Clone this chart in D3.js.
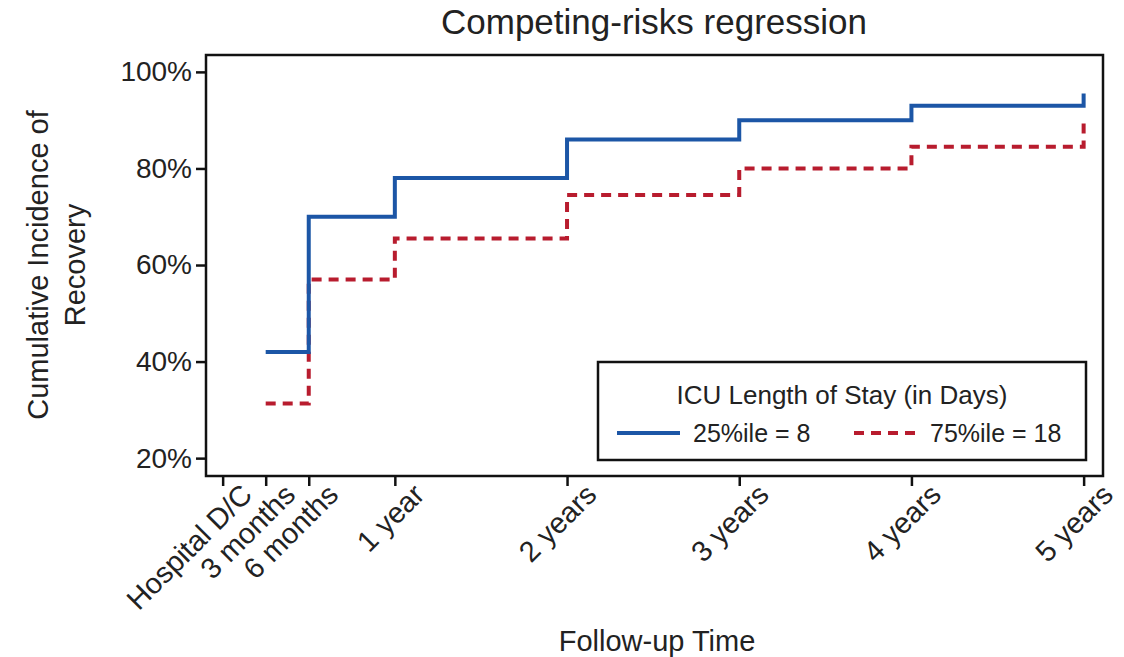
<!DOCTYPE html>
<html>
<head>
<meta charset="utf-8">
<script src="https://cdn.jsdelivr.net/npm/d3@7"></script>
<style>
  body { margin: 0; background: #fff; }
  text { font-family: "Liberation Sans", Arial, sans-serif; fill: #222; }
</style>
</head>
<body>
<script>
// Follow-up time in months, tick labels
const tickMonths = [0, 3, 6, 12, 24, 36, 48, 60];
const tickLabels = ["Hospital D/C", "3 months", "6 months", "1 year", "2 years", "3 years", "4 years", "5 years"];

// Step points (month, cumulative incidence %)
const stepMonths = [3, 6, 12, 24, 36, 48, 60];
const q25Values = [42, 70, 78, 86, 90, 93, 95.5];
const q75Values = [31.3, 57, 65.5, 74.5, 80, 84.5, 89.5];

const yTicks = [20, 40, 60, 80, 100];

const margin = { top: 55, right: 21, bottom: 181, left: 206 };
const W = 1124, H = 657;
const width = W - margin.left - margin.right;
const height = H - margin.top - margin.bottom;

const svg = d3.select("body")
              .append("svg")
              .attr("width", W)
              .attr("height", H);

const g = svg.append("g")
             .attr("transform", `translate(${margin.left},${margin.top})`);

const x = d3.scaleLinear().domain([-1.16, 61.35]).range([0, width]);
const y = d3.scaleLinear().domain([16.3, 103.5]).range([height, 0]);

// step line: each value holds from its month until the next month; final value shown as a jump at 60
function stepData(vals) {
    const pts = [];
    for (let i = 0; i < stepMonths.length - 1; i++) {
        pts.push([stepMonths[i], vals[i]]);
        pts.push([stepMonths[i + 1], vals[i]]);
    }
    pts.push([stepMonths[stepMonths.length - 1], vals[vals.length - 1]]);
    return pts;
}

const line = d3.line()
               .x(d => x(d[0]))
               .y(d => y(d[1]));

g.append("path")
 .datum(stepData(q75Values))
 .attr("fill", "none")
 .attr("stroke", "#b81c2e")
 .attr("stroke-width", 4)
 .attr("stroke-dasharray", "10,7")
 .attr("d", line);

g.append("path")
 .datum(stepData(q25Values))
 .attr("fill", "none")
 .attr("stroke", "#1c56a6")
 .attr("stroke-width", 4)
 .attr("d", line);

// frame
g.append("rect")
 .attr("width", width)
 .attr("height", height)
 .attr("fill", "none")
 .attr("stroke", "#111")
 .attr("stroke-width", 2.5);

// axes
const xAxis = g.append("g")
   .attr("transform", `translate(0,${height})`)
   .call(d3.axisBottom(x).tickValues(tickMonths).tickSize(10).tickFormat((d, i) => tickLabels[i]));
xAxis.select(".domain").remove();
xAxis.selectAll("line").attr("stroke", "#111").attr("stroke-width", 2.5);
xAxis.selectAll("text")
     .style("font-size", "29px")
     .attr("fill", "#222")
     .style("text-anchor", "end")
     .attr("dx", "0.25em")
     .attr("dy", "0.8em")
     .attr("transform", "rotate(-45)");

const yAxis = g.append("g")
   .call(d3.axisLeft(y).tickValues(yTicks).tickSize(10).tickFormat(d => d + "%"));
yAxis.select(".domain").remove();
yAxis.selectAll("line").attr("stroke", "#111").attr("stroke-width", 2.5);
yAxis.selectAll("text")
     .style("font-size", "28px")
     .attr("fill", "#333")
     .attr("x", -14);

// title
svg.append("text")
   .attr("x", 654)
   .attr("y", 34)
   .attr("text-anchor", "middle")
   .style("font-size", "35px")
   .text("Competing-risks regression");

// axis titles
svg.append("text")
   .attr("x", 657)
   .attr("y", 651)
   .attr("text-anchor", "middle")
   .style("font-size", "29px")
   .attr("fill", "#333")
   .text("Follow-up Time");

const yt = svg.append("text")
   .attr("transform", "translate(48,265) rotate(-90)")
   .attr("text-anchor", "middle")
   .style("font-size", "29px")
   .attr("fill", "#333");
yt.append("tspan").attr("x", 0).attr("dy", 0).text("Cumulative Incidence of");
yt.append("tspan").attr("x", 0).attr("dy", 37).text("Recovery");

// legend
const lg = svg.append("g").attr("transform", "translate(598,362)");
lg.append("rect")
  .attr("width", 488)
  .attr("height", 98)
  .attr("fill", "#fff")
  .attr("stroke", "#111")
  .attr("stroke-width", 2.5);
lg.append("text")
  .attr("x", 244)
  .attr("y", 42)
  .attr("text-anchor", "middle")
  .style("font-size", "26px")
  .text("ICU Length of Stay (in Days)");

const legendItems = [
  { label: "25%ile = 8", color: "#1c56a6", dash: null, x: 19 },
  { label: "75%ile = 18", color: "#b81c2e", dash: "10,7", x: 256 }
];
legendItems.forEach(it => {
  lg.append("line")
    .attr("x1", it.x).attr("x2", it.x + 63)
    .attr("y1", 71).attr("y2", 71)
    .attr("stroke", it.color)
    .attr("stroke-width", 4)
    .attr("stroke-dasharray", it.dash);
  lg.append("text")
    .attr("x", it.x + 76)
    .attr("y", 80)
    .style("font-size", "25px")
    .text(it.label);
});
</script>
</body>
</html>
